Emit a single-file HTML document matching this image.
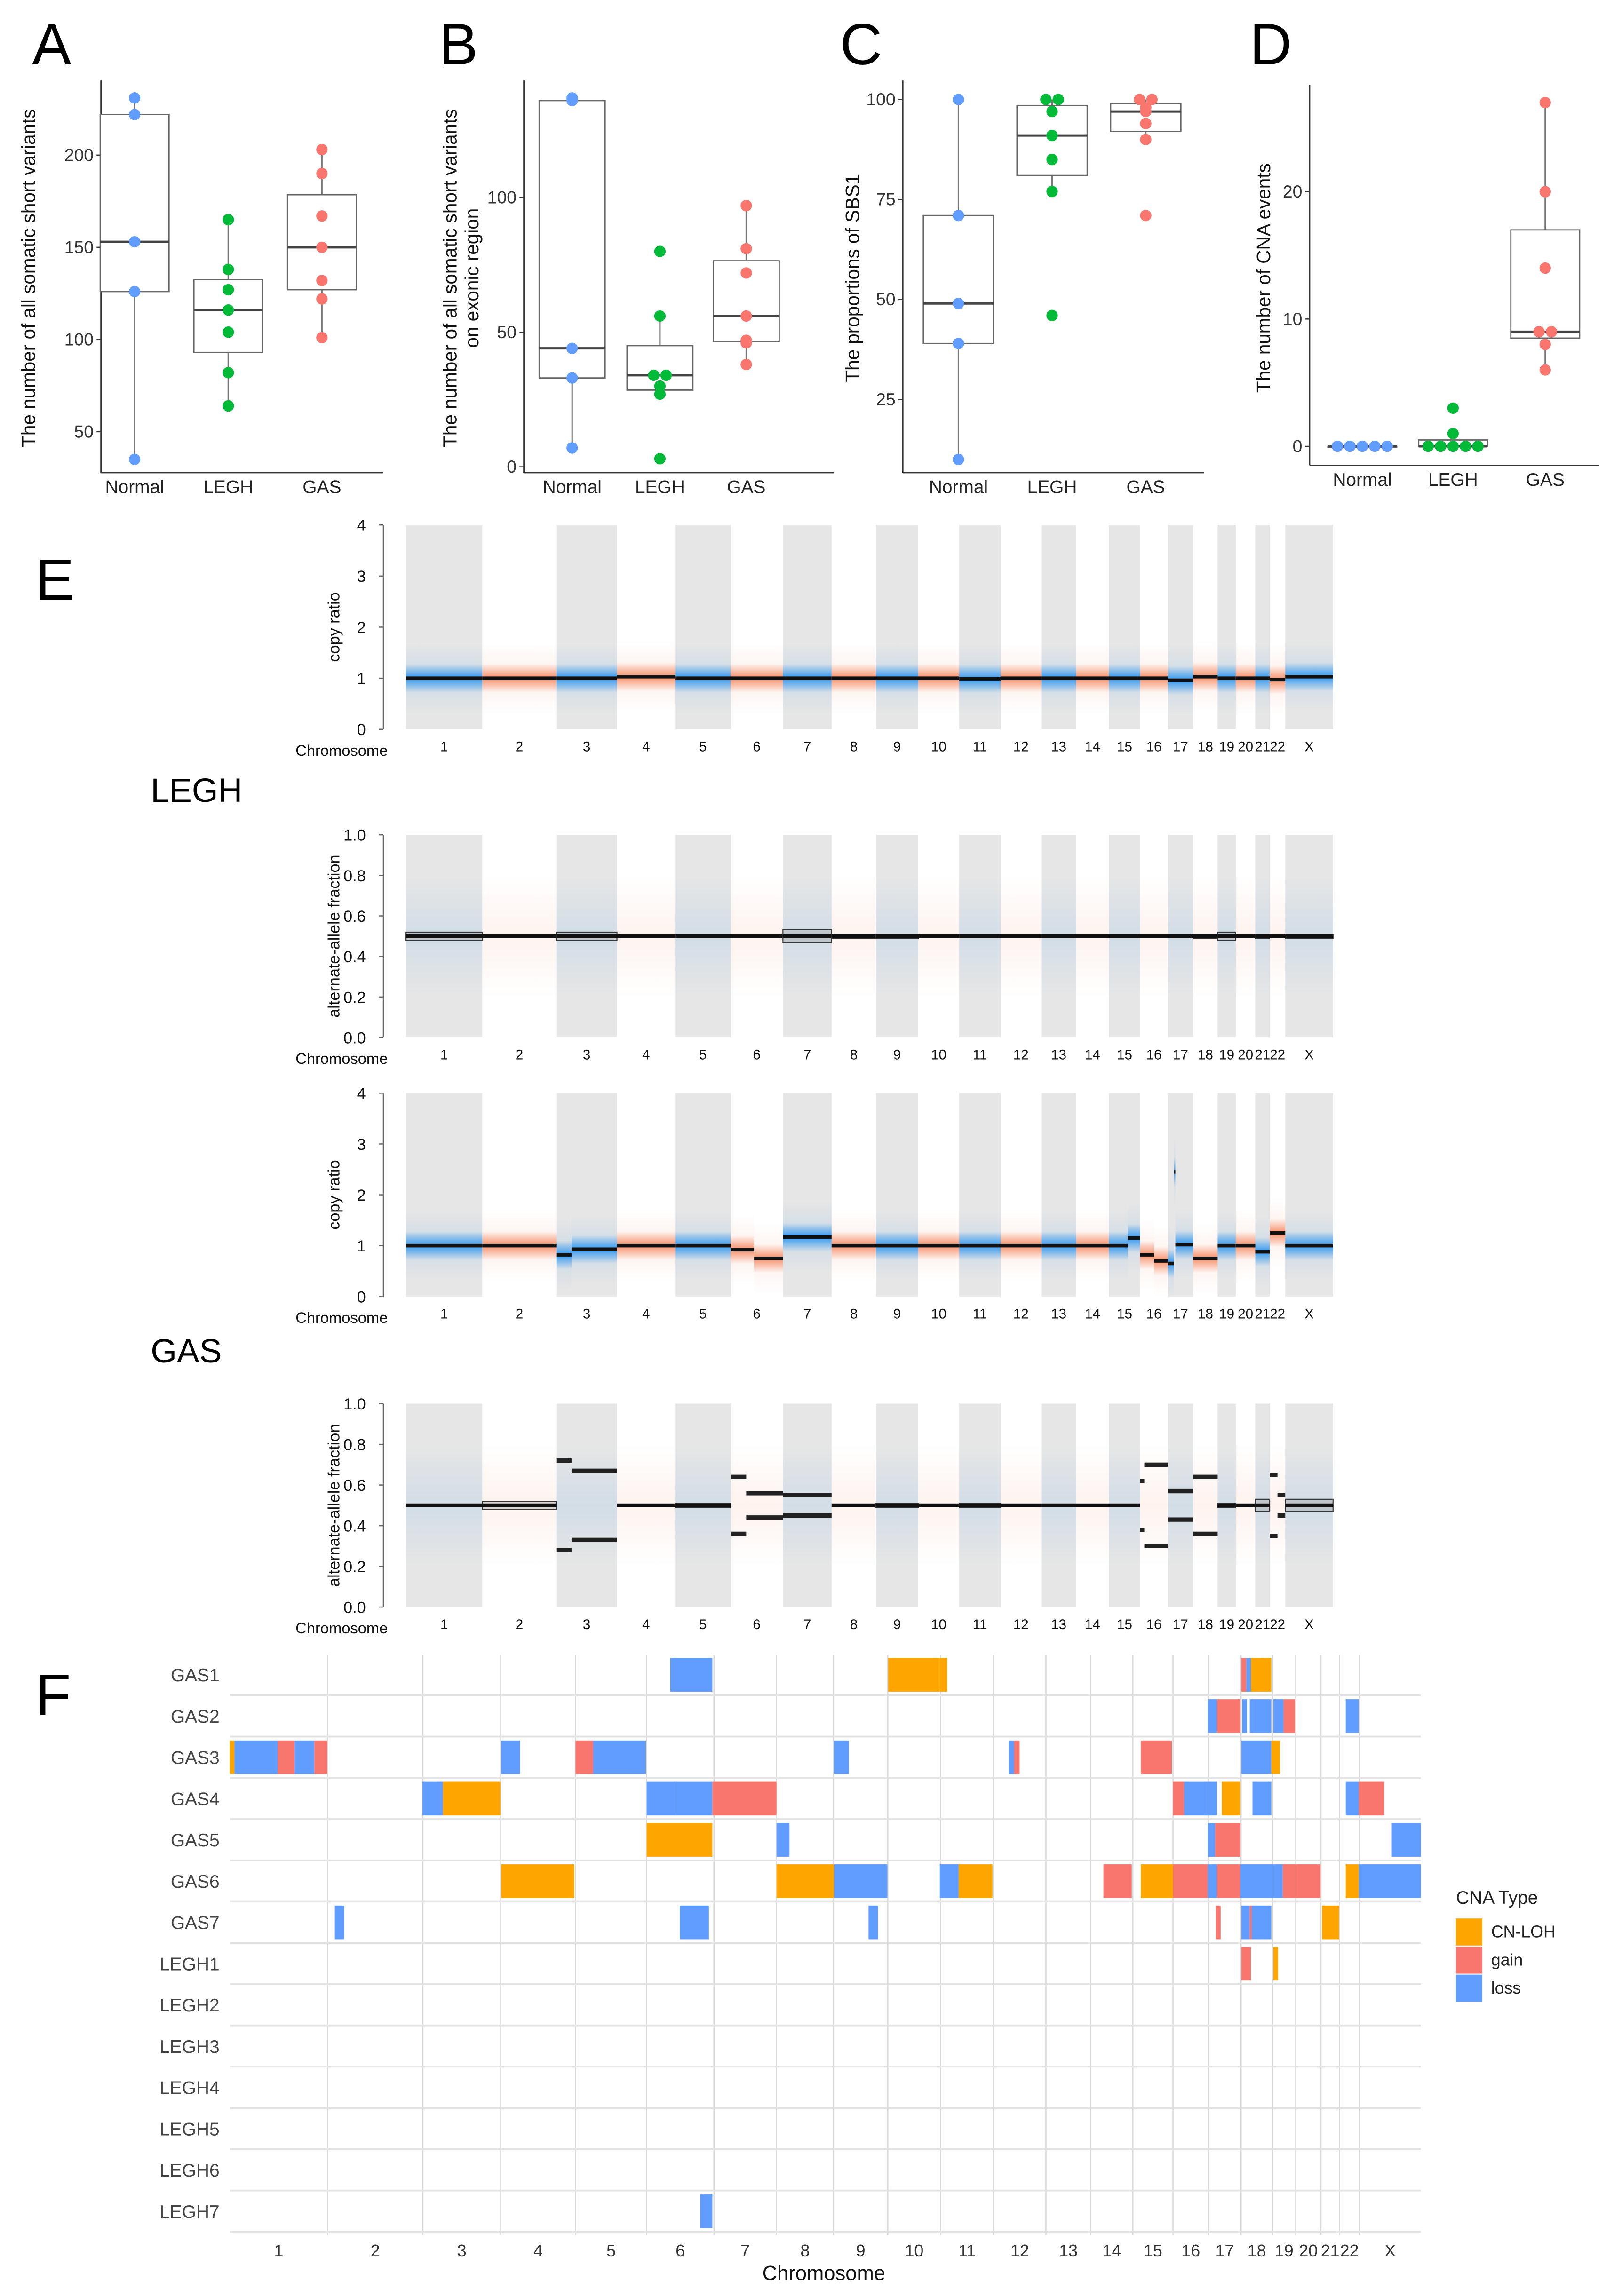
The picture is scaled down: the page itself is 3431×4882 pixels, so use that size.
<!DOCTYPE html>
<html><head><meta charset="utf-8"><style>body{margin:0;background:#fff}svg{display:block}</style></head><body>
<svg id="fig" xmlns="http://www.w3.org/2000/svg" width="3431" height="4882" viewBox="0 0 1103 1569" preserveAspectRatio="none" font-family="Liberation Sans, sans-serif">
<defs>
<linearGradient id="gBlue" x1="0" y1="0" x2="0" y2="1"><stop offset="0" stop-color="#1f8ff0" stop-opacity="0"/><stop offset="0.3" stop-color="#1f8ff0" stop-opacity="0.08"/><stop offset="0.5" stop-color="#1f8ff0" stop-opacity="0.9"/><stop offset="0.7" stop-color="#1f8ff0" stop-opacity="0.08"/><stop offset="1" stop-color="#1f8ff0" stop-opacity="0"/></linearGradient>
<linearGradient id="gOrange" x1="0" y1="0" x2="0" y2="1"><stop offset="0" stop-color="#f4845a" stop-opacity="0"/><stop offset="0.3" stop-color="#f4845a" stop-opacity="0.08"/><stop offset="0.5" stop-color="#f4845a" stop-opacity="0.9"/><stop offset="0.7" stop-color="#f4845a" stop-opacity="0.08"/><stop offset="1" stop-color="#f4845a" stop-opacity="0"/></linearGradient>
<linearGradient id="gBlueF" x1="0" y1="0" x2="0" y2="1"><stop offset="0" stop-color="#1f8ff0" stop-opacity="0"/><stop offset="0.5" stop-color="#1f8ff0" stop-opacity="0.1"/><stop offset="1" stop-color="#1f8ff0" stop-opacity="0"/></linearGradient>
<linearGradient id="gOrangeF" x1="0" y1="0" x2="0" y2="1"><stop offset="0" stop-color="#f4845a" stop-opacity="0"/><stop offset="0.5" stop-color="#f4845a" stop-opacity="0.1"/><stop offset="1" stop-color="#f4845a" stop-opacity="0"/></linearGradient>
</defs>
</svg>
<script>
// ---------- Box plot data ----------
const groups = ["Normal","LEGH","GAS"];
const groupColors = ["#619CFF","#00BA38","#F8766D"];
const aNormal = [231,222,153,126,35];
const aLegh = [165,138,127,116,104,82,64];
const aGas = [203,190,167,150,132,122,101];
const aTicks = [50,100,150,200];
const bNormal = [137,136,44,33,7];
const bLegh = [80,56,34,34,30,27,3];
const bGas = [97,81,72,56,47,46,38];
const bTicks = [0,50,100];
const cNormal = [100,71,49,39,10];
const cLegh = [100,100,97,91,85,77,46];
const cGas = [100,100,98,97,94,90,71];
const cTicks = [25,50,75,100];
const dNormal = [0,0,0,0,0];
const dLegh = [0,0,0,0,0,3,1];
const dGas = [27,20,14,9,9,8,6];
const dTicks = [0,10,20];

// ---------- Genome data ----------
const chromNames = ["1","2","3","4","5","6","7","8","9","10","11","12","13","14","15","16","17","18","19","20","21","22","X"];
const chromLengths = [249,242,198,190,181,171,159,145,138,134,135,133,114,107,102,90,83,80,59,64,47,51,156];
const leghCopyRatio = [1.0,1.0,1.0,1.03,1.0,1.0,1.0,1.0,1.0,1.0,0.99,1.0,1.0,1.0,1.0,1.0,0.96,1.03,1.0,1.0,1.0,0.97,1.03];
const leghAAF = [0.52,0.5,0.52,0.5,0.5,0.5,0.533,0.51,0.51,0.5,0.5,0.5,0.5,0.5,0.5,0.5,0.5,0.51,0.52,0.5,0.51,0.5,0.51];
// [chromosome, start fraction, end fraction, value]
const gasCopySegments = [[1,0,1,1.0],[2,0,1,1.0],[3,0,0.25,0.82],[3,0.25,1,0.93],[4,0,1,1.0],[5,0,1,1.0],[6,0,0.45,0.92],[6,0.45,1,0.75],[7,0,1,1.17],[8,0,1,1.0],[9,0,1,1.0],[10,0,1,1.0],[11,0,1,1.0],[12,0,1,1.0],[13,0,1,1.0],[14,0,1,1.0],[15,0,0.6,1.0],[15,0.6,1,1.15],[16,0,0.5,0.82],[16,0.5,1,0.7],[17,0,0.25,0.65],[17,0.25,0.3,2.45],[17,0.3,1,1.02],[18,0,1,0.75],[19,0,1,1.0],[20,0,1,1.0],[21,0,1,0.88],[22,0,1,1.25],[23,0,1,1.0]];
const gasAAFSegments = [[1,0,1,0.5],[2,0,1,0.52],[3,0,0.25,0.72],[3,0.25,1,0.67],[4,0,1,0.5],[5,0,1,0.51],[6,0,0.3,0.64],[6,0.3,1,0.56],[7,0,1,0.55],[8,0,1,0.5],[9,0,1,0.51],[10,0,1,0.5],[11,0,1,0.51],[12,0,1,0.5],[13,0,1,0.5],[14,0,1,0.5],[15,0,1,0.5],[16,0,0.15,0.62],[16,0.15,1,0.7],[17,0,1,0.57],[18,0,1,0.64],[19,0,1,0.51],[20,0,1,0.5],[21,0,1,0.53],[22,0,0.5,0.65],[22,0.5,1,0.55],[23,0,1,0.53]];

// ---------- CNA heatmap data (genome Mb, cumulative) ----------
const cnaSamples = ["GAS1","GAS2","GAS3","GAS4","GAS5","GAS6","GAS7","LEGH1","LEGH2","LEGH3","LEGH4","LEGH5","LEGH6","LEGH7"];
const cnaTypes = ["CN-LOH","gain","loss"];
const cnaColors = ["#FFA500","#F8766D","#619CFF"];
const cnaSample = [0,0,0,0,0,0, 1,1,1,1,1,1,1, 2,2,2,2,2,2,2,2,2,2,2,2,2,2, 3,3,3,3,3,3,3,3,3,3,3,3, 4,4,4,4,4, 5,5,5,5,5,5,5,5,5,5,5,5,5,5,5,5, 6,6,6,6,6,6,6,6, 7,7, 13];
const cnaType = [2,0,0,1,2,0, 2,1,2,2,2,1,2, 0,2,1,2,1,2,1,2,2,2,1,1,2,0, 2,0,2,2,1,1,2,2,0,2,2,1, 0,2,2,1,2, 0,0,2,2,0,1,0,1,2,1,2,2,1,1,0,2, 2,2,2,1,2,1,2,0, 1,0, 2];
const cnaStart = [].concat(
 [1120,1674,1805,2572,2584,2596],
 [2486,2510,2574,2593,2653,2679,2837],
 [0,12,122,165,215,690,879,924,1536,1980,1994,2316,2572,2648],
 [490,542,1060,1137,1227,2398,2426,2486,2522,2600,2837,2870],
 [1060,1390,2486,2505,2954],
 [690,1390,1536,1805,1853,2221,2316,2398,2486,2510,2569,2653,2677,2708,2837,2870],
 [267,1144,1624,2507,2572,2593,2598,2777],
 [2572,2653],
 [1196]);
const cnaEnd = [].concat(
 [1227,1805,1824,2584,2596,2648],
 [2510,2569,2586,2648,2679,2708,2870],
 [12,122,165,215,248,738,924,1058,1574,1994,2008,2395,2648,2670],
 [542,688,1137,1227,1390,2426,2486,2510,2569,2648,2870,2935],
 [1227,1423,2505,2569,3028],
 [876,1536,1672,1853,1939,2293,2398,2486,2510,2569,2653,2677,2708,2773,2870,3028],
 [291,1218,1648,2519,2593,2598,2648,2820],
 [2596,2665],
 [1227]);
</script>
<script>
const svg = document.getElementById('fig');
const NS = 'http://www.w3.org/2000/svg';
function mk(tag, attrs, parent){ const e=document.createElementNS(NS,tag); for(const k in attrs) e.setAttribute(k,attrs[k]); (parent||svg).appendChild(e); return e; }
function txt(str, attrs, parent){ const e=mk('text',attrs,parent); e.textContent=str; return e; }

const letters=[["A",22,44],["B",300,44],["C",574,44],["D",854,44],["E",24,410],["F",24,1172]];
letters.forEach(l=>{ const t=txt(l[0],{x:l[1],y:l[2],'font-size':40,fill:'#000'});
 
  });

function quant(s,p){const h=(s.length-1)*p,l=Math.floor(h);return s[l]+(s[Math.min(l+1,s.length-1)]-s[l])*(h-l);}

function boxPanel(cfg){
  const g=mk('g',{});
  
  
  const y=v=>cfg.yRef+(v-cfg.vRef)*cfg.k;
  const ax=mk('line',{x1:cfg.x0,y1:cfg.top,x2:cfg.x0,y2:cfg.bottom,stroke:'#333','stroke-width':0.9},g);
  
  
  const bx=mk('line',{x1:cfg.x0,y1:cfg.bottom,x2:cfg.x1,y2:cfg.bottom,stroke:'#333','stroke-width':0.9},g);
  
  
  cfg.ticks.forEach(t=>{
    mk('line',{x1:cfg.x0-3,x2:cfg.x0,y1:y(t),y2:y(t),stroke:'#333','stroke-width':0.8},g);
    const tl=txt(String(t),{x:cfg.x0-5,y:y(t)+4,'font-size':12,'text-anchor':'end',fill:'#333'},g);
    
    
  });
  const tt=mk('text',{transform:`translate(${cfg.tx},${cfg.ty}) rotate(-90)`,'font-size':13,'text-anchor':'middle',fill:'#111'},g);
  
  
  cfg.title.forEach((line,i)=>{ const ts=mk('tspan',{x:0,dy:i?15:0},tt); ts.textContent=line; });
  cfg.data.forEach((arr,gi)=>{
    const cx=cfg.cx[gi];
    const s=arr.slice().sort((a,b)=>a-b);
    const q1=quant(s,.25),q3=quant(s,.75),md=quant(s,.5),iqr=q3-q1;
    const lo=s.find(v=>v>=q1-1.5*iqr), hi=s.slice().reverse().find(v=>v<=q3+1.5*iqr);
    const w=cfg.bw;
    const wl=mk('line',{x1:cx,x2:cx,y1:y(hi),y2:y(lo),stroke:'#777','stroke-width':1},g);
    
    
    const r=mk('rect',{x:cx-w/2,y:y(q3),width:w,height:Math.max(0.5,y(q1)-y(q3)),fill:'#fff',stroke:'#666','stroke-width':0.9},g);
    
    
    const m=mk('line',{x1:cx-w/2,x2:cx+w/2,y1:y(md),y2:y(md),stroke:'#444','stroke-width':1.6},g);
    
    
    const counts={};arr.forEach(v=>counts[v]=(counts[v]||0)+1);const seen={};
    arr.forEach(v=>{ const n=counts[v],k=(seen[v]=(seen[v]||0)+1)-1;
      const px=cx+(k-(n-1)/2)*8.5;
      const c=mk('circle',{cx:px,cy:y(v),r:3.9,fill:groupColors[gi]},g);
      
       });
    const xl=txt(groups[gi],{x:cx,y:cfg.bottom+14,'font-size':12.5,'text-anchor':'middle',fill:'#222'},g);
    
    
  });
}
boxPanel({id:'a',x0:69,x1:262,top:55,bottom:323,yRef:106,vRef:200,k:-1.26,ticks:aTicks,cx:[92,156,220],bw:47,data:[aNormal,aLegh,aGas],title:["The number of all somatic short variants"],tx:24,ty:190});
boxPanel({id:'b',x0:358,x1:570,top:55,bottom:323,yRef:135,vRef:100,k:-1.84,ticks:bTicks,cx:[391,451,510],bw:45,data:[bNormal,bLegh,bGas],title:["The number of all somatic short variants","on exonic region"],tx:312,ty:190});
boxPanel({id:'c',x0:617,x1:823,top:55,bottom:323,yRef:68,vRef:100,k:-2.733,ticks:cTicks,cx:[655,719,783],bw:48,data:[cNormal,cLegh,cGas],title:["The proportions of SBS1"],tx:587,ty:190});
boxPanel({id:'d',x0:895,x1:1093,top:58,bottom:318,yRef:131,vRef:20,k:-8.7,ticks:dTicks,cx:[931,993,1056],bw:47,data:[dNormal,dLegh,dGas],title:["The number of CNA events"],tx:868,ty:190});

// ---------- Panel E ----------
const gX0=277.5, gX1=911;
const totalLen=chromLengths.reduce((a,b)=>a+b,0);
const chromStart=[];{let acc=0;chromLengths.forEach(l=>{chromStart.push(acc);acc+=l;});}
const gx=mb=>gX0+(mb/totalLen)*(gX1-gX0);

function genomePanel(cfg){
  const g=mk('g',{});
  
  
  const y=v=>cfg.bottom-(v/cfg.ymax)*(cfg.bottom-cfg.top);
  chromLengths.forEach((L,i)=>{ if(i%2===0){ const b=mk('rect',{x:gx(chromStart[i]),y:cfg.top,width:gx(chromStart[i]+L)-gx(chromStart[i]),height:cfg.bottom-cfg.top,fill:'#e6e6e6'},g);
    
     }
    const cl=txt(chromNames[i],{x:(gx(chromStart[i])+gx(chromStart[i]+L))/2,y:cfg.bottom+15,'font-size':9.5,'text-anchor':'middle',fill:'#111'},g);
    
    
  });
  const ch=txt('Chromosome',{x:265,y:cfg.bottom+18,'font-size':10.5,'text-anchor':'end',fill:'#111'},g);
  
  
  const ax=mk('line',{x1:262,x2:262,y1:cfg.top,y2:cfg.bottom,stroke:'#666','stroke-width':0.8},g);
  
  
  cfg.ticks.forEach(t=>{ mk('line',{x1:259,x2:262,y1:y(t),y2:y(t),stroke:'#666','stroke-width':0.8},g);
    const tl=txt(cfg.fmt(t),{x:250,y:y(t)+4,'font-size':11,'text-anchor':'end',fill:'#111'},g);
    
     });
  const tt=txt(cfg.title,{transform:`translate(232,${(cfg.top+cfg.bottom)/2}) rotate(-90)`,'font-size':11,'text-anchor':'middle',fill:'#111'},g);
  
  
  cfg.segs.forEach(s=>{
    const ci=s[0]-1, a=gx(chromStart[ci]+chromLengths[ci]*s[1]), b=gx(chromStart[ci]+chromLengths[ci]*s[2]);
    const v=s[3];
    if(cfg.kind==='cr'){
      const spread=0.7;
      const n=mk('rect',{x:a,y:y(v+spread),width:b-a,height:y(v-spread)-y(v+spread),fill:ci%2===0?'url(#gBlue)':'url(#gOrange)'},g);
      
      
      const l=mk('rect',{x:a,y:y(v)-1.2,width:b-a,height:2.4,fill:'#111'},g);
      
      
    } else {
      const n=mk('rect',{x:a,y:y(0.8),width:b-a,height:y(0.2)-y(0.8),fill:ci%2===0?'url(#gBlueF)':'url(#gOrangeF)'},g);
      
      
      const d=Math.abs(v-0.5);
      if(d<0.035){
        if(d>0.004){
          const bx=mk('rect',{x:a,y:y(v),width:b-a,height:y(1-v)-y(v),fill:'#999','fill-opacity':0.35,stroke:'#333','stroke-width':0.7},g);
          
          
        }
        const l=mk('rect',{x:a,y:y(0.5)-1.3,width:b-a,height:2.6,fill:'#111'},g);
        
        
      } else {
        [v,1-v].forEach(val=>{
          const l=mk('rect',{x:a,y:y(val)-1.5,width:b-a,height:3,fill:'#222'},g);
          
           });
      }
    }
  });
}
const crTicks=[0,1,2,3,4];
const afTicks=[0,0.2,0.4,0.6,0.8,1.0];
genomePanel({id:'legh-copy-ratio',kind:'cr',top:358.7,bottom:498.4,ymax:4,ticks:crTicks,fmt:t=>String(t),title:'copy ratio',segs:leghCopyRatio.map((v,i)=>[i+1,0,1,v])});
genomePanel({id:'legh-allele-fraction',kind:'af',top:570.5,bottom:709,ymax:1,ticks:afTicks,fmt:t=>t.toFixed(1),title:'alternate-allele fraction',segs:leghAAF.map((v,i)=>[i+1,0,1,v])});
genomePanel({id:'gas-copy-ratio',kind:'cr',top:747,bottom:886,ymax:4,ticks:crTicks,fmt:t=>String(t),title:'copy ratio',segs:gasCopySegments});
genomePanel({id:'gas-allele-fraction',kind:'af',top:959.2,bottom:1098.2,ymax:1,ticks:afTicks,fmt:t=>t.toFixed(1),title:'alternate-allele fraction',segs:gasAAFSegments});
const lg=txt('LEGH',{x:103,y:548,'font-size':23,fill:'#000'});


const gs=txt('GAS',{x:103,y:931,'font-size':23,fill:'#000'});



// ---------- Panel F ----------
const hX0=157, hX1=971, hTop=1133, rowH=28.2, tileH=23;
const hx=mb=>hX0+(mb/totalLen)*(hX1-hX0);
const fg=mk('g',{});


const gridBottom=hTop+cnaSamples.length*rowH-0.5;
chromLengths.forEach((L,i)=>{
  const xb=hx(chromStart[i]+L);
  if(i<chromLengths.length-1){ const vl=mk('line',{x1:xb,x2:xb,y1:hTop-2,y2:gridBottom,stroke:'#d9d9d9','stroke-width':0.8},fg);
  
   }
  const cl=txt(chromNames[i],{x:(hx(chromStart[i])+xb)/2,y:1542,'font-size':11.5,'text-anchor':'middle',fill:'#333'},fg);
  
  
});
cnaSamples.forEach((s,i)=>{
  const yb=hTop+i*rowH+tileH+2.5;
  const hl=mk('line',{x1:hX0,x2:hX1,y1:yb,y2:yb,stroke:'#e3e3e3','stroke-width':1.2},fg);
  
  
  const rl=txt(s,{x:150,y:hTop+i*rowH+tileH/2+4.5,'font-size':12.5,'text-anchor':'end',fill:'#444'},fg);
  
  
});
cnaSample.forEach((si,k)=>{
  const r=mk('rect',{x:hx(cnaStart[k]),y:hTop+si*rowH,width:Math.max(1.5,hx(cnaEnd[k])-hx(cnaStart[k])),height:tileH,fill:cnaColors[cnaType[k]]},fg);
  
  
});
const fx=txt('Chromosome',{x:563,y:1558,'font-size':14,'text-anchor':'middle',fill:'#111'},fg);


const lt=txt('CNA Type',{x:995,y:1301,'font-size':12.5,fill:'#222'});


cnaTypes.forEach((t,i)=>{
  const r=mk('rect',{x:995,y:1311+i*19.2,width:18,height:18.5,fill:cnaColors[i]});
  
  
  const l=txt(t,{x:1019,y:1324+i*19.2,'font-size':11.5,fill:'#222'});
  
  
});
</script>
</body></html>
